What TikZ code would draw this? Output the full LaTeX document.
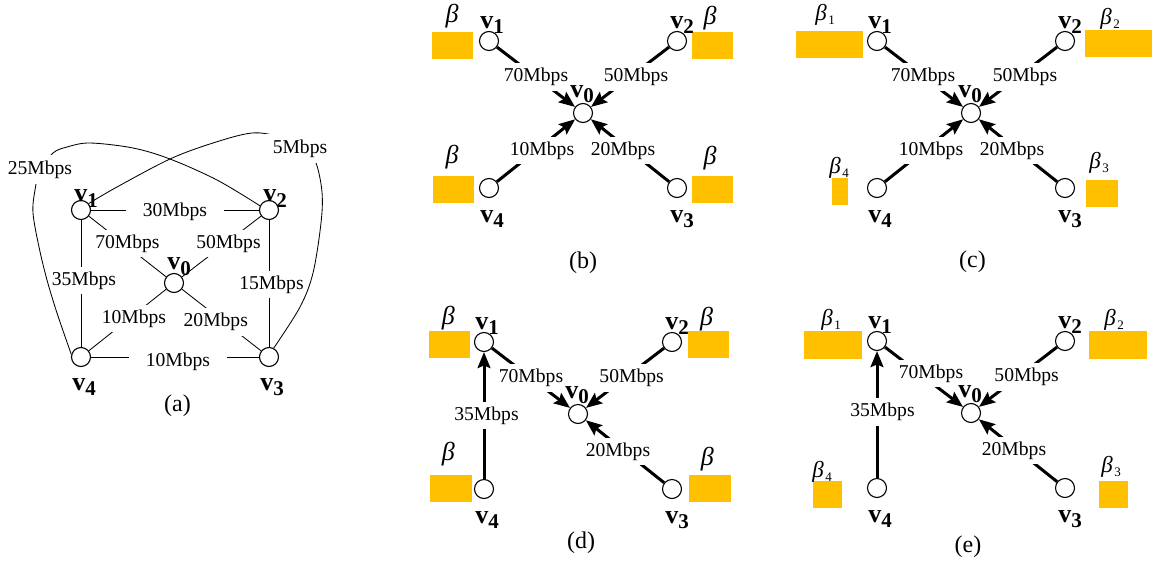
\documentclass[tikz,border=0pt]{standalone}
\usepackage{fontspec}
\setmainfont{Liberation Serif}
\usetikzlibrary{arrows.meta}
\definecolor{boxc}{HTML}{FFC000}
% bold vertex name with lowered index
\newcommand\vname[1]{{\fontsize{13}{13}\selectfont\bfseries v\raisebox{-2.8pt}{\fontsize{10.5}{10.5}\selectfont #1}}}
% beta with a small upright index
\newcommand\bidx[1]{{\itshape β}\kern0.8pt\raisebox{-2pt}{\fontsize{6.5}{6.5}\selectfont #1}}
% vertices of one star panel, centred on v0
\newcommand\starverts{%
  \node[vtx] (v0) at (0,0) {};
  \node[vtx] (v1) at (-94,-72) {};
  \node[vtx] (v2) at (94,-72) {};
  \node[vtx] (v3) at (94,75) {};
  \node[vtx] (v4) at (-94,75) {};
}
\newcommand\starnames{%
  \node[vlab] (n0) at (-13,-16) {\vname0};
  \node[vlab] (n1) at (-103,-85) {\vname1};
  \node[vlab] (n2) at (87,-85) {\vname2};
  \node[vlab] (n3) at (87,109) {\vname3};
  \node[vlab] (n4) at (-103,109) {\vname4};
}
\begin{document}
\begin{tikzpicture}[x=0.5pt, y=-0.5pt,
  vtx/.style={circle, draw, line width=0.55pt, fill=white, minimum size=9.5pt, inner sep=0pt},
  elab/.style={fill=white, inner xsep=2pt, inner ysep=2.5pt, font=\fontsize{9.8}{11}\selectfont},
  elabw/.style={elab, inner xsep=8.3pt},
  thinedge/.style={line width=0.42pt},
  flowarrow/.style={line width=1.5pt, -{Stealth[length=8pt, width=6.4pt, inset=1.3pt]}},
  vlab/.style={anchor=base west, inner sep=0pt},
  bbig/.style={inner sep=0pt, font=\fontsize{13}{13}\selectfont\itshape},
  bsmall/.style={anchor=base west, inner sep=0pt, font=\fontsize{11.5}{12}\selectfont},
  panelcap/.style={font=\fontsize{12}{14}\selectfont}]
\useasboundingbox (0,0) rectangle (1156,568);

% ---------------- (a) full network ----------------
\node[vtx] (a0) at (174,283) {};
\node[vtx] (a1) at (81,210) {};
\node[vtx] (a2) at (269,210) {};
\node[vtx] (a3) at (269,357) {};
\node[vtx] (a4) at (81,357) {};
\draw[thinedge] (a1) -- node[elabw, yshift=-1pt]{30Mbps} (a2);
\draw[thinedge] (a4) -- node[elabw, xshift=1.5pt, yshift=-2.5pt]{10Mbps} (a3);
\draw[thinedge] (a1) -- node[elab, xshift=1.5pt, yshift=1.5pt]{35Mbps} (a4);
\draw[thinedge] (a2) -- node[elab, xshift=1.25pt, yshift=-0.5pt]{15Mbps} (a3);
\draw[thinedge] (a1) -- node[elab, yshift=1.5pt]{70Mbps} (a0);
\draw[thinedge] (a2) -- node[elab, xshift=3.5pt, yshift=1.5pt]{50Mbps} (a0);
\draw[thinedge] (a4) -- node[elab, xshift=3.25pt, yshift=0.75pt]{10Mbps} (a0);
\draw[thinedge] (a3) -- node[elab, xshift=-2.85pt, yshift=-1pt]{20Mbps} (a0);
% long links over the top
\draw[thinedge] plot[smooth, tension=0.55] coordinates
  {(a4.165) (57,313) (47,280) (39,247) (33,213) (35,190) (40,170) (53,153) (67,147) (90,143) (133,148) (170,159) (217,180) (a2.155)};
\node[elab, inner ysep=3pt] (c25) at (40,169.5) {25Mbps};
\draw[thinedge] plot[smooth, tension=0.55] coordinates
  {(a1.40) (117,187) (170,159) (213,143) (252,133) (280,137) (305,148) (316,163) (322,192) (321,223) (313,273) (300,307) (a3.62)};
\node[elab, inner xsep=8pt, inner ysep=3pt] (c5) at (300,148.5) {5Mbps};
\node[vlab] (an1) at (74,201.5) {\vname1};
\node[vlab] (an2) at (263,201.5) {\vname2};
\node[vlab] (an0) at (167,269.5) {\vname0};
\node[vlab] (an4) at (72,390) {\vname4};
\node[vlab] (an3) at (260,390) {\vname3};
\node[panelcap] (capa) at (177.5,406) {(a)};

% ---------------- (b) equal shares ----------------
\fill[boxc] (432,32) rectangle (473,59);
\fill[boxc] (692,32) rectangle (733,59);
\fill[boxc] (433,176) rectangle (474,203);
\fill[boxc] (692,176) rectangle (733,203);
\node[bbig] (bb1) at (452,16) {β};
\node[bbig] (bb2) at (710,18.5) {β};
\node[bbig] (bb4) at (452,157) {β};
\node[bbig] (bb3) at (710,158) {β};
\begin{scope}[shift={(583,113)}, name prefix=b-]
  \starverts
  \draw[flowarrow] (v1) -- node[elab]{70Mbps} (v0);
  \draw[flowarrow] (v2) -- node[elab, xshift=3pt]{50Mbps} (v0);
  \draw[flowarrow] (v4) -- node[elab, xshift=3pt]{10Mbps} (v0);
  \draw[flowarrow] (v3) -- node[elab, xshift=-3.5pt]{20Mbps} (v0);
  \starnames
\end{scope}
\node[panelcap] (capb) at (583,262.5) {(b)};

% ---------------- (c) weighted shares ----------------
\fill[boxc] (796,31) rectangle (863,58);
\fill[boxc] (1085,30) rectangle (1152,57);
\fill[boxc] (832,178) rectangle (848,205);
\fill[boxc] (1086,180) rectangle (1118,207);
\node[bsmall] (cb1) at (815,20) {\bidx1};
\node[bsmall] (cb2) at (1100,24) {\bidx2};
\node[bsmall] (cb4) at (829,173) {\bidx4};
\node[bsmall] (cb3) at (1089,168) {\bidx3};
\begin{scope}[shift={(971,113)}, name prefix=c-]
  \starverts
  \draw[flowarrow] (v1) -- node[elab, xshift=-0.5pt]{70Mbps} (v0);
  \draw[flowarrow] (v2) -- node[elab, xshift=3.5pt]{50Mbps} (v0);
  \draw[flowarrow] (v4) -- node[elab, xshift=3.5pt]{10Mbps} (v0);
  \draw[flowarrow] (v3) -- node[elab, xshift=-3pt]{20Mbps} (v0);
  \starnames
\end{scope}
\node[panelcap] (capc) at (972.5,262) {(c)};

% ---------------- (d) relay through v1, equal shares ----------------
\fill[boxc] (429,331) rectangle (470,358);
\fill[boxc] (688,331) rectangle (729,358);
\fill[boxc] (430,475) rectangle (472,502);
\fill[boxc] (689,475) rectangle (731,502);
\node[bbig] (db1) at (448.3,318) {β};
\node[bbig] (db2) at (706.7,319) {β};
\node[bbig] (db4) at (448.3,454) {β};
\node[bbig] (db3) at (707.3,459) {β};
\begin{scope}[shift={(578,414)}, name prefix=d-]
  \starverts
  \draw[flowarrow] (v4) -- node[elab, xshift=1.25pt]{35Mbps} (v1);
  \draw[flowarrow] (v1) -- node[elab]{70Mbps} (v0);
  \draw[flowarrow] (v2) -- node[elab, xshift=3.3pt]{50Mbps} (v0);
  \draw[flowarrow] (v3) -- node[elab, xshift=-3.5pt]{20Mbps} (v0);
  \starnames
\end{scope}
\node[panelcap] (capd) at (581,543) {(d)};

% ---------------- (e) relay through v1, weighted shares ----------------
\fill[boxc] (804,331) rectangle (862,359);
\fill[boxc] (1089,331) rectangle (1147,359);
\fill[boxc] (813,481) rectangle (842,508);
\fill[boxc] (1099,481) rectangle (1128,508);
\node[bsmall] (eb1) at (821,325) {\bidx1};
\node[bsmall] (eb2) at (1104,325) {\bidx2};
\node[bsmall] (eb4) at (812,477) {\bidx4};
\node[bsmall] (eb3) at (1101,472) {\bidx3};
\begin{scope}[shift={(971,413)}, name prefix=e-]
  \starverts
  \draw[flowarrow] (v4) -- node[elab, xshift=2.75pt, yshift=1.25pt]{35Mbps} (v1);
  \draw[flowarrow] (v1) -- node[elab, xshift=3.5pt, yshift=1.75pt]{70Mbps} (v0);
  \draw[flowarrow] (v2) -- node[elab, xshift=4.3pt]{50Mbps} (v0);
  \draw[flowarrow] (v3) -- node[elab, xshift=-2pt]{20Mbps} (v0);
  \starnames
\end{scope}
\node[panelcap] (cape) at (968,547) {(e)};
\end{tikzpicture}
\end{document}
